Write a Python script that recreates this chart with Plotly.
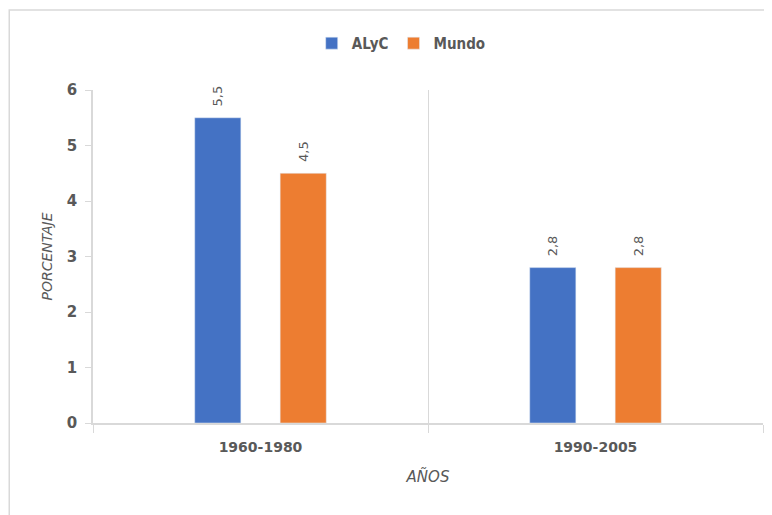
import plotly.graph_objects as go

# data
periodos = ["1960-1980", "1990-2005"]
alyc = [5.5, 2.8]
mundo = [4.5, 2.8]
alyc_txt = ["5,5", "2,8"]
mundo_txt = ["4,5", "2,8"]

gris = "#595959"
pad = "\u00a0\u00a0"  # little gap between bar top and its rotated label

fig = go.Figure()
fig.add_trace(go.Bar(
    x=periodos, y=alyc, name="ALyC", marker_color="#4472C4",
    text=[pad + t for t in alyc_txt], textposition="outside", textangle=-90,
    textfont=dict(color=gris, size=13, family="DejaVu Sans"),
    cliponaxis=False,
))
fig.add_trace(go.Bar(
    x=periodos, y=mundo, name="Mundo", marker_color="#ED7D31",
    text=[pad + t for t in mundo_txt], textposition="outside", textangle=-90,
    textfont=dict(color=gris, size=13, family="DejaVu Sans"),
    cliponaxis=False,
))

# the page body adds an 8px margin, so the figure is a bit smaller than the window
fig.update_layout(
    width=764, height=507,
    margin=dict(l=85, r=9, t=82, b=92, autoexpand=False),
    plot_bgcolor="white", paper_bgcolor="white",
    barmode="group", bargap=0.49, bargroupgap=0.46,
    font=dict(family="DejaVu Sans", color=gris),
    legend=dict(
        orientation="h", x=0.46, xanchor="center", y=1.14, yanchor="middle",
        bgcolor="rgba(0,0,0,0)",
        font=dict(family="DejaVu Sans Condensed", size=15, weight="bold", color=gris),
        itemwidth=30, traceorder="normal",
    ),
    xaxis=dict(
        automargin=False,
        tickson="boundaries", showgrid=True, gridcolor="#d9d9d9", gridwidth=1,
        showline=True, linecolor="#d9d9d9", linewidth=1.5,
        ticks="outside", ticklen=8, tickcolor="#d9d9d9", ticklabelstandoff=10,
        tickfont=dict(size=14, weight="bold", color=gris),
        title=dict(text="AÑOS", font=dict(size=15, style="italic", color=gris), standoff=18),
    ),
    yaxis=dict(
        automargin=False,
        range=[0, 6], dtick=1, showgrid=False, zeroline=False,
        showline=True, linecolor="#d9d9d9", linewidth=1.5,
        ticks="outside", ticklen=6, tickcolor="#d9d9d9", ticklabelstandoff=5,
        tickfont=dict(size=15, weight="bold", color=gris),
        title=dict(text="PORCENTAJE", font=dict(size=14, style="italic", color=gris), standoff=11),
    ),
    shapes=[
        # chart frame
        dict(type="rect", xref="paper", yref="paper",
             x0=-0.125, x1=1.02, y0=-0.3, y1=1.24,
             line=dict(color="#d9d9d9", width=1.5), layer="below"),
    ],
)

fig.write_html("out.html")
